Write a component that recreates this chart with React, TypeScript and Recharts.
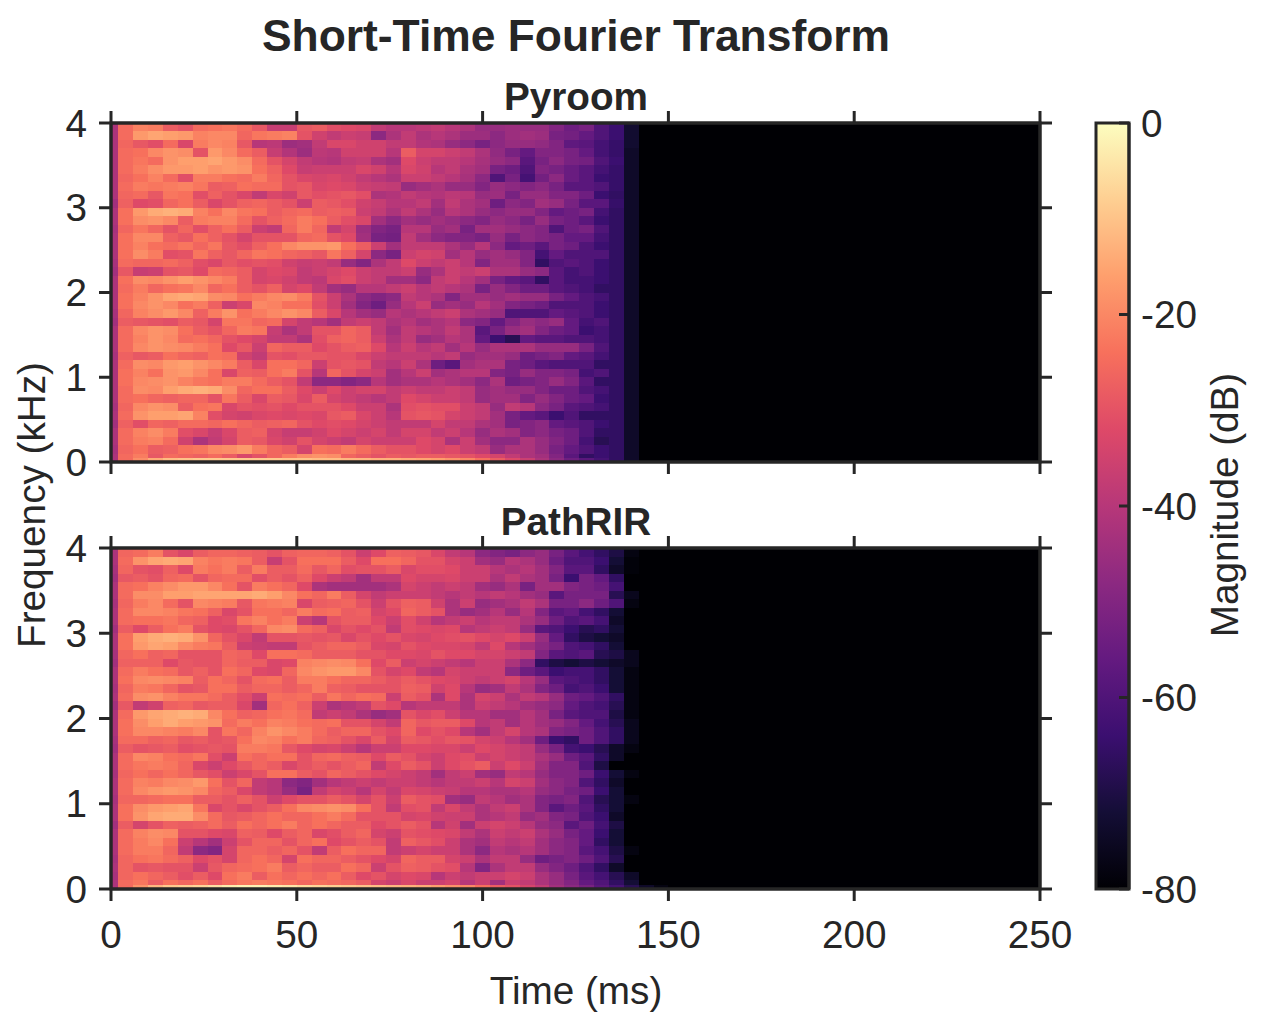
import React from 'react';
import { ComposedChart, ReferenceArea, XAxis, YAxis } from 'recharts';

const timeTicks = [0, 50, 100, 150, 200, 250];
const freqTicks = [0, 1, 2, 3, 4];
const dbTicks = [0, -20, -40, -60, -80];
const magmaStops = ['#000004', '#140e36', '#3b0f70', '#641a80', '#8c2981', '#b73779', '#de4968', '#f7705c', '#fe9f6d', '#fecf92', '#fcfdbf'];

// dB below 0, rows run from 4 kHz down in 100 Hz bands, columns are the 4 ms STFT frames
const pyroomRows = [
  [42,25,21,22,28,30,25,24,23,25,29,37,37,29,28,31,32,33,38,40,40,39,38,40,42,46,46,45,46,46,50,54,52,60,64,73],
  [42,25,17,15,16,17,21,20,20,26,23,22,21,30,35,38,36,37,48,42,38,42,40,42,45,45,48,45,44,45,52,53,56,60,64,73],
  [42,26,29,31,25,33,22,20,21,29,40,39,45,44,38,33,33,35,35,38,38,41,42,46,48,52,48,46,46,47,50,57,58,62,65,73],
  [42,25,24,20,18,19,30,17,20,25,28,37,41,45,39,40,35,35,35,40,28,34,34,36,38,42,47,52,56,50,50,52,56,62,65,74],
  [42,25,23,25,18,16,16,15,17,19,25,30,34,38,40,41,38,37,42,44,32,36,38,38,40,43,46,48,58,52,48,52,53,60,64,74],
  [42,25,22,19,17,17,16,18,17,18,24,27,32,37,36,36,36,33,35,40,33,35,40,38,42,44,52,54,60,50,52,55,58,62,65,74],
  [42,26,24,21,25,31,22,22,24,25,22,26,30,33,34,33,35,38,40,42,36,36,38,40,43,48,60,52,62,53,48,55,58,64,65,74],
  [42,25,22,23,22,21,23,28,27,24,25,25,30,29,33,32,33,36,37,38,46,44,42,46,46,50,46,48,50,48,52,58,58,60,65,74],
  [42,26,25,29,23,24,31,27,30,33,38,33,35,29,31,30,29,31,42,41,38,40,41,39,40,46,45,52,46,46,50,50,54,64,66,74],
  [44,27,32,31,26,24,28,33,30,27,26,28,30,36,28,29,31,35,37,40,40,38,44,38,42,44,54,48,50,44,46,52,58,58,65,74],
  [42,24,17,14,13,14,21,24,20,23,24,28,26,25,28,27,28,36,38,42,38,42,46,40,42,46,48,46,46,50,56,54,52,62,66,74],
  [42,24,19,18,20,28,22,21,21,25,30,27,25,22,24,28,31,33,44,48,44,46,44,46,48,50,46,48,52,46,52,54,58,64,66,74],
  [43,26,23,26,30,26,31,27,24,28,36,38,26,22,26,38,34,45,50,52,40,40,46,44,52,44,44,46,48,50,60,54,52,60,66,74],
  [42,24,20,20,27,29,24,27,30,34,30,30,30,26,25,30,32,44,52,53,38,44,48,50,50,52,46,52,48,50,52,56,56,62,66,74],
  [42,24,21,24,25,23,26,23,29,31,27,24,20,18,18,17,24,28,36,44,38,38,38,42,46,40,48,56,54,58,52,54,60,64,66,74],
  [42,24,19,22,31,30,23,27,29,26,23,24,26,27,29,23,27,34,48,52,36,34,35,44,40,46,44,46,50,62,56,60,60,60,66,74],
  [43,25,26,26,25,27,31,33,29,31,30,31,35,37,36,38,46,50,42,38,32,36,38,36,40,50,44,44,50,66,60,58,60,64,66,74],
  [44,29,37,36,30,29,32,25,26,28,34,32,33,38,36,34,32,36,38,38,36,46,42,36,38,36,42,42,46,48,58,62,60,64,66,74],
  [42,24,19,20,18,16,18,20,22,28,34,33,35,38,39,33,31,36,38,44,44,48,38,36,40,44,52,56,58,66,58,62,62,64,66,74],
  [42,25,22,26,24,23,20,26,24,28,30,27,34,32,38,44,46,40,40,38,36,40,38,40,42,52,46,50,54,54,58,60,62,66,66,74],
  [42,24,21,18,15,14,15,19,20,24,22,20,19,22,30,36,42,48,50,48,38,40,42,50,44,44,46,44,46,46,52,56,60,62,66,74],
  [42,24,20,18,20,24,22,27,36,33,20,21,24,24,31,36,44,50,54,46,40,36,46,44,46,40,44,50,52,54,60,60,60,64,66,74],
  [43,26,21,19,17,20,27,22,18,24,22,20,18,20,28,33,40,44,46,40,42,40,38,36,42,44,46,60,60,60,56,58,60,64,66,74],
  [44,28,29,30,31,28,29,34,23,23,26,25,34,38,40,44,38,36,38,42,40,44,42,40,48,50,56,50,46,48,46,56,62,60,66,74],
  [42,25,20,18,19,24,28,30,26,22,23,37,42,38,30,30,26,28,38,44,38,40,42,38,42,58,52,46,44,50,54,56,64,62,66,74],
  [42,25,21,18,20,25,24,26,30,32,34,38,38,42,31,27,26,28,36,42,38,46,44,40,42,56,64,68,56,58,58,60,60,62,66,74],
  [42,25,20,18,19,20,22,24,32,29,36,26,28,28,32,30,28,27,32,40,36,40,38,44,40,46,42,42,42,46,46,46,52,60,66,74],
  [43,27,29,28,24,26,27,24,25,35,38,30,31,29,29,30,30,33,36,38,38,38,40,38,46,44,44,46,54,52,50,56,58,62,66,74],
  [42,25,19,20,17,16,18,20,22,28,33,24,24,26,36,30,29,30,38,40,36,42,54,58,44,42,42,52,54,58,60,60,60,66,66,74],
  [42,24,21,24,18,17,20,24,33,27,28,24,22,30,40,26,30,34,36,44,40,36,44,42,40,40,50,52,46,50,50,52,62,60,66,74],
  [42,24,20,19,18,21,23,24,22,22,25,28,30,38,48,48,50,48,40,44,42,42,40,42,44,48,42,54,52,50,46,50,58,66,66,74],
  [42,25,19,20,16,14,13,14,19,26,24,24,28,32,36,32,36,34,34,38,36,38,38,36,38,46,44,46,46,50,54,54,60,62,66,74],
  [42,25,24,26,27,26,26,30,23,28,33,28,29,33,28,34,36,38,40,38,32,34,36,36,38,46,44,44,50,46,50,54,56,64,66,74],
  [43,26,20,18,19,28,24,23,33,30,31,30,32,30,30,30,32,36,36,42,31,30,31,31,36,38,46,38,40,48,52,58,60,62,66,74],
  [42,25,18,16,16,15,21,31,34,35,33,32,33,32,33,29,28,33,36,40,30,29,30,34,36,38,44,52,56,58,64,60,66,66,66,74],
  [44,27,31,26,27,25,25,26,24,26,28,27,26,30,32,31,32,34,36,38,38,38,34,38,38,42,44,52,50,48,56,58,60,64,66,74],
  [42,25,21,19,22,31,33,37,33,28,27,34,37,37,35,32,34,36,34,38,34,34,38,36,40,46,42,44,50,48,52,54,60,66,66,74],
  [42,25,22,21,25,35,42,38,34,28,29,33,35,30,34,36,38,34,36,36,36,32,34,42,36,44,48,48,42,46,50,54,62,68,66,74],
  [43,26,24,28,27,24,23,20,19,17,22,26,28,34,24,25,22,25,28,30,30,32,34,32,36,38,46,42,42,46,52,56,60,64,66,74],
  [42,25,22,29,25,26,27,25,28,33,30,26,22,19,18,19,26,28,30,28,29,28,28,29,30,32,34,38,42,44,50,58,66,64,66,74],
];
const pyroomFloor = [42,25,19,14,11,10,9,9,9,9,9,9,10,10,11,11,12,12,13,13,14,15,16,18,20,24,28,32,36,42,48,54,58,62,66,74];

const pathRirRows = [
  [42,26,25,22,30,33,28,26,26,27,28,30,27,26,26,27,30,36,32,27,28,29,33,38,40,48,50,52,48,46,52,58,62,66,70,78],
  [42,25,18,15,14,15,21,23,22,23,28,37,30,24,24,24,28,32,24,24,26,30,30,34,36,44,46,40,42,46,54,60,60,64,72,79],
  [43,26,30,31,27,32,22,24,22,28,22,28,28,25,29,26,31,30,30,28,33,31,31,32,36,36,40,42,40,44,50,58,58,66,74,79],
  [44,29,28,30,26,25,30,26,25,25,31,28,30,27,32,36,38,44,38,38,32,34,34,33,36,36,42,38,42,44,52,64,52,56,66,80],
  [42,25,24,21,19,17,17,20,24,30,22,24,26,32,42,44,44,44,44,42,34,36,38,36,38,44,46,42,52,44,44,50,52,54,62,80],
  [42,25,19,19,16,16,15,15,15,15,14,16,20,24,26,22,28,34,38,36,36,36,38,40,38,40,38,40,44,46,58,52,52,52,68,76],
  [43,26,22,20,25,30,20,21,22,29,23,22,21,33,28,27,26,30,36,30,27,28,35,42,36,46,44,42,38,42,52,52,48,54,60,78],
  [42,25,20,20,21,23,24,27,33,30,24,24,26,22,25,24,28,27,34,32,26,28,30,42,46,44,40,46,40,50,58,56,62,66,72,80],
  [42,25,24,24,23,26,27,32,31,23,21,24,22,36,40,30,28,28,32,36,31,35,40,38,36,40,38,38,42,46,54,60,58,62,74,80],
  [44,28,32,28,24,22,30,32,33,30,26,20,19,25,27,33,30,32,30,38,31,32,33,32,40,38,36,38,46,58,60,64,68,66,72,80],
  [42,24,16,14,13,14,18,26,30,33,38,30,30,29,30,29,33,30,32,30,33,34,32,31,30,32,34,32,36,46,56,66,70,72,74,80],
  [42,24,17,15,16,20,22,23,28,36,37,38,38,30,28,26,26,28,33,34,30,32,33,33,34,38,32,40,44,48,52,60,62,66,72,80],
  [43,26,24,27,26,30,30,30,26,27,32,24,24,25,28,28,28,30,30,32,32,33,30,32,32,34,34,36,38,50,58,60,58,68,70,76],
  [44,27,27,27,32,29,30,30,26,28,28,33,32,21,20,19,20,24,32,28,36,34,36,38,40,36,36,42,48,66,70,72,70,72,74,76],
  [42,25,22,24,25,29,27,30,24,26,32,33,26,20,18,17,17,20,30,34,32,38,40,34,36,36,36,48,54,58,64,62,62,66,72,78],
  [42,24,20,19,20,21,28,24,26,30,25,24,28,22,22,24,26,26,28,30,28,30,32,33,36,38,36,34,40,46,58,60,62,66,72,78],
  [43,26,22,23,26,30,29,24,24,28,26,26,28,26,22,27,28,30,30,30,27,28,35,32,40,46,44,38,42,50,54,62,60,64,72,78],
  [42,25,19,18,21,23,23,25,28,31,36,24,25,24,28,23,26,24,25,36,28,30,42,32,42,34,36,42,38,40,46,54,56,60,66,78],
  [44,29,38,35,27,26,29,28,28,33,44,26,24,27,36,42,40,38,30,32,40,38,38,38,42,36,38,40,44,46,48,56,60,62,68,78],
  [42,25,17,15,14,13,14,20,24,27,26,24,23,25,38,36,38,42,46,44,30,33,31,36,40,40,44,44,40,44,52,58,60,60,70,78],
  [42,24,19,16,14,16,17,18,25,22,24,21,22,24,25,24,30,30,34,38,26,29,28,28,32,40,38,44,40,44,46,50,56,62,68,76],
  [42,24,20,20,21,22,20,30,23,26,21,18,20,22,25,28,26,26,30,32,26,32,30,32,40,44,38,34,40,42,50,52,54,60,66,76],
  [43,25,25,27,26,29,28,30,29,24,20,21,24,22,26,27,30,33,28,34,28,29,31,29,30,34,36,40,44,54,64,66,54,60,66,76],
  [44,28,30,29,28,31,30,29,30,22,22,23,29,32,34,33,36,40,36,36,32,32,33,33,36,32,34,36,38,46,52,62,64,68,74,78],
  [42,25,20,21,24,25,23,31,36,24,26,24,24,30,26,25,27,28,32,28,30,34,36,32,31,36,34,36,38,42,46,54,58,66,74,80],
  [42,25,23,22,23,26,33,36,32,29,26,28,33,30,28,30,28,26,38,32,28,30,36,32,30,28,36,32,36,44,50,50,60,70,80,80],
  [43,26,24,26,24,26,29,31,36,33,30,24,24,28,30,26,28,30,32,34,36,38,44,38,36,44,46,38,40,46,50,50,54,64,72,78],
  [42,25,21,22,20,19,17,24,30,26,38,40,48,50,44,40,38,36,38,36,36,38,40,38,38,36,40,34,36,44,48,50,60,66,74,80],
  [42,25,20,18,17,18,20,26,28,33,38,40,46,52,38,34,36,40,34,38,33,34,36,37,40,40,42,42,40,46,48,52,54,64,72,80],
  [43,26,26,25,24,24,28,28,30,27,30,36,32,30,30,28,30,34,30,36,28,30,31,44,46,38,40,44,42,50,52,50,60,68,72,78],
  [42,24,19,17,16,15,23,33,30,33,30,28,24,20,19,18,19,24,30,38,31,30,38,33,38,42,38,36,42,50,58,54,58,66,72,80],
  [42,24,18,15,14,14,19,25,29,28,26,24,26,26,24,22,25,30,30,30,34,33,35,36,36,42,40,38,46,44,50,52,60,64,74,80],
  [44,28,34,30,27,28,27,25,28,24,26,24,22,26,24,26,28,28,32,30,28,30,40,35,44,36,34,36,40,46,48,58,54,62,70,80],
  [42,25,21,19,20,30,30,32,33,27,28,32,28,26,33,31,28,26,34,36,30,31,32,33,38,42,36,38,36,42,46,52,56,64,72,80],
  [42,25,22,20,24,36,40,44,36,30,26,26,30,26,24,32,30,28,30,38,27,29,31,36,42,44,38,40,38,44,48,50,56,66,72,80],
  [42,25,22,22,26,38,48,50,34,26,26,28,26,30,38,28,24,26,26,38,36,34,36,36,42,48,40,42,40,44,48,50,58,62,70,78],
  [43,26,24,23,25,27,32,30,34,26,24,26,34,24,26,26,28,30,32,34,26,28,28,34,36,42,38,38,46,54,52,50,54,60,68,80],
  [42,26,30,29,30,30,36,29,26,25,24,22,28,26,28,28,24,26,36,30,27,28,30,31,40,50,42,38,38,46,50,54,60,66,74,80],
  [43,26,24,26,28,31,28,32,24,22,28,24,26,24,26,24,28,32,30,34,32,33,40,36,38,36,36,34,36,42,46,52,58,62,68,74],
  [42,25,23,28,24,26,24,28,25,23,22,23,24,26,24,25,26,28,34,36,33,36,36,34,40,36,44,36,38,42,46,50,56,60,66,72],
];
const pathRirFloor = [42,25,18,12,9,8,7,5,3,2,2,3,4,6,7,8,9,10,11,12,13,14,16,18,20,24,28,30,34,38,44,48,52,58,62,68,74,78];

const floorBandTop = 0.045;
const ink = '#262626';

const cellColor = (atten: number) => {
  const t = Math.min(1, Math.max(0, 1 - atten / 80)) * (magmaStops.length - 1);
  const i = Math.min(magmaStops.length - 2, Math.floor(t));
  const hex = (s: string, p: number) => parseInt(s.slice(p, p + 2), 16);
  const mix = (p: number) => Math.round(hex(magmaStops[i], p) + (hex(magmaStops[i + 1], p) - hex(magmaStops[i], p)) * (t - i));
  return `rgb(${mix(1)},${mix(3)},${mix(5)})`;
};

const frameStart = (col: number) => (col === 0 ? 0 : 4 * col - 2);
const frameEnd = (col: number) => 4 * col + 2;

const cell = (key: string, col: number, y1: number, y2: number, atten: number) => (
  <ReferenceArea
    key={key}
    xAxisId="b"
    yAxisId="l"
    x1={frameStart(col)}
    x2={frameEnd(col)}
    y1={y1}
    y2={y2}
    fill={cellColor(atten)}
    fillOpacity={1}
    stroke="none"
    shapeRendering="crispEdges"
  />
);

const axisStyle = { stroke: ink, strokeWidth: 3 };
const tickFont = { fontSize: 38.7, fill: ink, fontFamily: 'Liberation Sans' };

type PanelProps = { rows: number[][]; floor: number[]; top: number; plotHeight: number; bottom: number; labelled: boolean };

const Panel = ({ rows, floor, top, plotHeight, bottom, labelled }: PanelProps) => (
  <div style={{ position: 'absolute', left: 0, top }}>
    <ComposedChart
      width={1262}
      height={plotHeight + 30 + bottom}
      data={timeTicks.map((t, i) => ({ t, f: freqTicks[i % 5] }))}
      margin={{ top: 0, bottom: 0, left: 41, right: 152 }}
    >
      <XAxis xAxisId="t" orientation="top" type="number" dataKey="t" domain={[0, 250]} ticks={timeTicks} height={30} tickSize={12} tickFormatter={() => ''} axisLine={axisStyle} tickLine={axisStyle} />
      <XAxis xAxisId="b" orientation="bottom" type="number" dataKey="t" domain={[0, 250]} ticks={timeTicks} height={bottom} tickSize={12} tickMargin={20} interval={0} tick={tickFont} tickFormatter={(v) => (labelled ? String(v) : '')} axisLine={axisStyle} tickLine={axisStyle} />
      <YAxis yAxisId="l" orientation="left" type="number" dataKey="f" domain={[0, 4]} ticks={freqTicks} width={70} tickSize={12} tickMargin={12} interval={0} tick={tickFont} axisLine={axisStyle} tickLine={axisStyle} />
      <YAxis yAxisId="r" orientation="right" type="number" dataKey="f" domain={[0, 4]} ticks={freqTicks} width={70} tickSize={12} interval={0} tickFormatter={() => ''} axisLine={axisStyle} tickLine={axisStyle} />
      <ReferenceArea xAxisId="b" yAxisId="l" x1={0} x2={250} y1={0} y2={4} fill="#000004" fillOpacity={1} stroke="none" />
      {rows.flatMap((row, r) =>
        row.map((atten, c) => cell(`${r}-${c}`, c, (39 - r) / 10, (40 - r) / 10, atten))
      )}
      {floor.map((atten, c) => cell(`floor-${c}`, c, 0, floorBandTop, atten))}
      <ReferenceArea xAxisId="b" yAxisId="l" x1={0} x2={250} y1={0} y2={4} fill="none" stroke={ink} strokeWidth={3} />
    </ComposedChart>
  </div>
);

const ColorBar = () => (
  <div style={{ position: 'absolute', left: 1084, top: 83 }}>
    <ComposedChart width={178} height={846} data={[{ v: 0, d: -80 }, { v: 1, d: 0 }]} margin={{ top: 40, bottom: 40, left: 12, right: 0 }}>
      <defs>
        <linearGradient id="magma" x1="0" y1="1" x2="0" y2="0">
          {magmaStops.map((color, index) => (
            <stop key={index} offset={`${index * 10}%`} stopColor={color} />
          ))}
        </linearGradient>
      </defs>
      <XAxis xAxisId="c" type="number" dataKey="v" domain={[0, 1]} hide />
      <YAxis yAxisId="c" orientation="right" type="number" dataKey="d" domain={[-80, 0]} ticks={dbTicks} width={133} tickSize={-10} tickMargin={22} interval={0} tick={tickFont} tickFormatter={(v) => String(v)} axisLine={axisStyle} tickLine={axisStyle} />
      <ReferenceArea xAxisId="c" yAxisId="c" x1={0} x2={1} y1={-80} y2={0} fill="url(#magma)" fillOpacity={1} stroke={ink} strokeWidth={3} />
    </ComposedChart>
  </div>
);

const App = () => (
  <div style={{ position: 'absolute', left: 0, top: 0, width: 1262, height: 1025, background: '#fff', fontFamily: 'Liberation Sans' }}>
    <Panel rows={pyroomRows} floor={pyroomFloor} top={93} plotHeight={339} bottom={30} labelled={false} />
    <Panel rows={pathRirRows} floor={pathRirFloor} top={518} plotHeight={341} bottom={90} labelled />
    <ColorBar />
    <svg width={1262} height={1025} style={{ position: 'absolute', left: 0, top: 0, pointerEvents: 'none' }} fontFamily="Liberation Sans" fill={ink}>
      <text x={576} y={51} textAnchor="middle" fontSize={44.4} fontWeight="bold">Short-Time Fourier Transform</text>
      <text x={576} y={110} textAnchor="middle" fontSize={38.7} fontWeight="bold">Pyroom</text>
      <text x={576} y={535} textAnchor="middle" fontSize={38.7} fontWeight="bold">PathRIR</text>
      <text x={576} y={1004} textAnchor="middle" fontSize={38.7}>Time (ms)</text>
      <text transform="translate(45,505) rotate(-90)" textAnchor="middle" fontSize={38.7}>Frequency (kHz)</text>
      <text transform="translate(1238,505) rotate(-90)" textAnchor="middle" fontSize={38.7}>Magnitude (dB)</text>
    </svg>
  </div>
);

export default App;
